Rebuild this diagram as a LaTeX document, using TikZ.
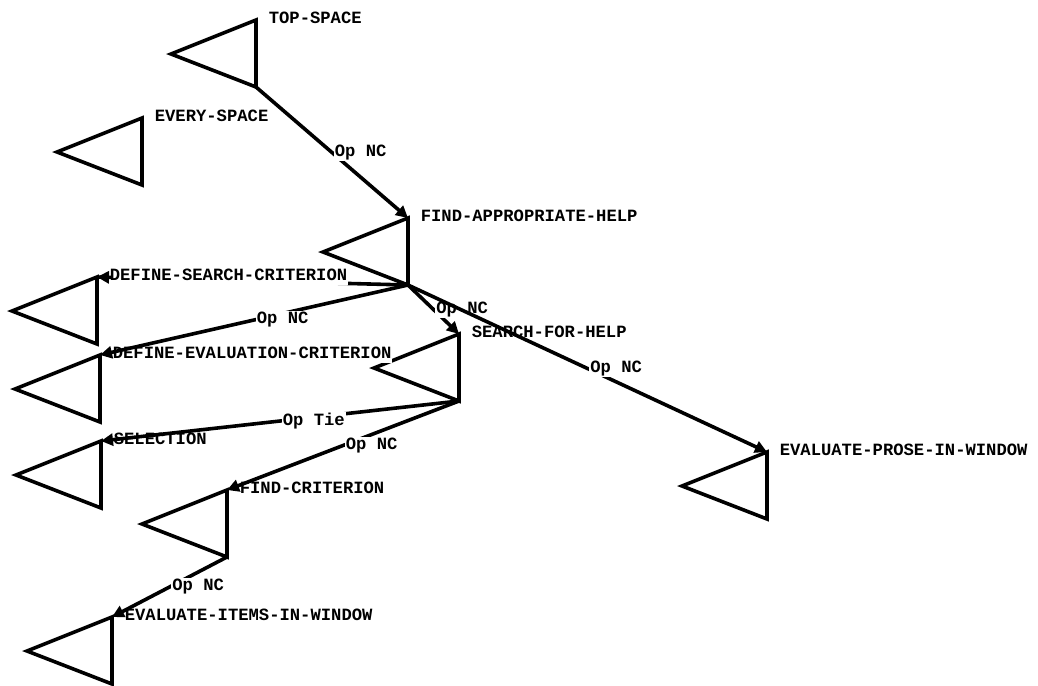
\documentclass[tikz,border=0pt]{standalone}
\usepackage{fontspec}
\setmonofont{Liberation Mono}
\usetikzlibrary{arrows.meta}
\usetikzlibrary{calc}

\begin{document}
\begin{tikzpicture}[x=0.5pt, y=-0.5pt, line width=1.8pt,
    every node/.style={font=\ttfamily\bfseries\fontsize{8.6}{10}\selectfont},
    link/.style={-{Triangle[length=6pt,width=6pt]}},
    oplabel/.style={anchor=west, fill=white, inner sep=0.5pt, pos=0.5},
    spacename/.style={anchor=west, fill=white, inner xsep=0.5pt, inner ysep=2.2pt}]
    \useasboundingbox (0,0) rectangle (1038,685);

    % problem spaces
    \foreach \n/\x/\y in {ts/256/20, es/142/118, fah/408/218, dsc/97/277, dec/100/355,
                          sfh/459/334, sel/101/441, fc/227/490, eiw/112/617, epw/767/452} {
        \draw (\x,\y) coordinate (\n-t) -- ++(-85,34) -- ++(85,33) coordinate (\n-b) -- cycle;
    }

    % this one runs under its label
    \draw (fah-b) -- (dsc-t);

    \foreach \n/\w in {ts/TOP-SPACE, es/EVERY-SPACE, fah/FIND-APPROPRIATE-HELP,
                       dsc/DEFINE-SEARCH-CRITERION, dec/DEFINE-EVALUATION-CRITERION,
                       sfh/SEARCH-FOR-HELP, sel/SELECTION, fc/FIND-CRITERION,
                       eiw/EVALUATE-ITEMS-IN-WINDOW, epw/EVALUATE-PROSE-IN-WINDOW} {
        \node[spacename] (\n-name) at ([xshift=5pt, yshift=1pt]\n-t) {\w};
    }

    \draw[link] ($(dsc-t)!0.05!(fah-b)$) -- (dsc-t);
    \draw[link] (ts-b) -- node[oplabel] {Op NC} (fah-t);
    \draw[link] (fah-b) -- node[oplabel] {Op NC} (dec-t);
    \draw[link] (fah-b) -- node[oplabel] {Op NC} (sfh-t);
    \draw[link] (sfh-b) -- node[oplabel] {Op Tie} (sel-t);
    \draw[link] (sfh-b) -- node[oplabel] {Op NC} (fc-t);
    \draw[link] (fc-b) -- node[oplabel] {Op NC} (eiw-t);
    \draw[link] (fah-b) -- node[oplabel] {Op NC} (epw-t);
\end{tikzpicture}
\end{document}
